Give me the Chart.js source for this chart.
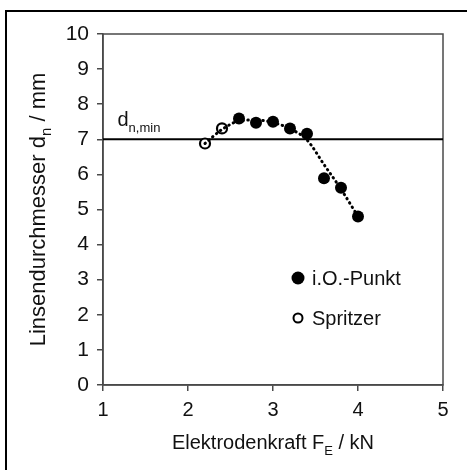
<!DOCTYPE html>
<html>
<head>
<meta charset="utf-8">
<script src="https://cdn.jsdelivr.net/npm/chart.js@4.4.0/dist/chart.umd.min.js"></script>
<style>
  html, body { margin: 0; padding: 0; background: #fff; }
  #wrap { position: relative; width: 467px; height: 470px; }
  #frame { position: absolute; left: 5px; top: 10px; right: -10px; bottom: -10px;
           border-top: 2px solid #000; border-left: 2px solid #000; }
  #wrap canvas { position: absolute; left: 0; top: 0; }
</style>
</head>
<body>
<div id="wrap">
  <div id="frame"></div>
  <canvas id="chart" width="467" height="470"></canvas>
</div>
<script>
// Electrode force (kN) vs. nugget diameter (mm)
const okForce = [2.6, 2.8, 3.0, 3.2, 3.4, 3.6, 3.8, 4.0];
const okDiameter = [7.59, 7.47, 7.50, 7.31, 7.16, 5.89, 5.62, 4.80];

const splashForce = [2.2, 2.4];
const splashDiameter = [6.88, 7.31];

// dotted trend curve
const trendForce = [2.2, 2.4, 2.6, 2.8, 3.0, 3.2, 3.4, 3.6, 3.8, 4.0];
const trendDiameter = [6.88, 7.28, 7.52, 7.55, 7.48, 7.30, 6.98, 6.28, 5.58, 4.80];

const dnMin = 7;
const xRange = [1, 5];
const yRange = [0, 10];

const FONT = '"Liberation Sans", Arial, sans-serif';
const toXY = (xs, ys) => xs.map((x, i) => ({ x: x, y: ys[i] }));

// draws text made of parts [{t, sub}] with real subscripts
function drawParts(ctx, parts, x, y, size, align) {
    const subSize = Math.round(size * 0.66);
    let total = 0;
    parts.forEach(p => {
        ctx.font = (p.sub ? subSize : size) + 'px ' + FONT;
        p.w = ctx.measureText(p.t).width;
        total += p.w;
    });
    let cx = align === 'center' ? x - total / 2 : x;
    parts.forEach(p => {
        ctx.font = (p.sub ? subSize : size) + 'px ' + FONT;
        ctx.fillText(p.t, cx, p.sub ? y + size * 0.28 : y);
        cx += p.w;
    });
}

const extras = {
    id: 'extras',
    beforeDatasetsDraw(chart) {
        const { ctx, chartArea: a } = chart;
        ctx.save();
        ctx.strokeStyle = '#4a4a4a';
        ctx.lineWidth = 1.5;
        ctx.strokeRect(a.left, a.top, a.right - a.left, a.bottom - a.top);
        ctx.restore();
    },
    afterDraw(chart) {
        const { ctx, chartArea: a, scales } = chart;
        ctx.save();
        ctx.fillStyle = '#111';
        ctx.textBaseline = 'alphabetic';
        // x title
        drawParts(ctx, [{ t: 'Elektrodenkraft F' }, { t: 'E', sub: true }, { t: ' / kN' }],
            (a.left + a.right) / 2, 449, 20, 'center');
        // y title
        ctx.save();
        ctx.translate(45, (a.top + a.bottom) / 2);
        ctx.rotate(-Math.PI / 2);
        drawParts(ctx, [{ t: 'Linsendurchmesser d' }, { t: 'n', sub: true }, { t: ' / mm' }],
            0, 0, 22, 'center');
        ctx.restore();
        // threshold label
        drawParts(ctx, [{ t: 'd' }, { t: 'n,min', sub: true }],
            scales.x.getPixelForValue(1.17), scales.y.getPixelForValue(dnMin) - 13, 20, 'left');
        // legend
        const items = [
            { label: 'i.O.-Punkt', fill: '#000', r: 6.5, lw: 0 },
            { label: 'Spritzer', fill: '#fff', r: 4.5, lw: 2 }
        ];
        items.forEach((it, i) => {
            const y = 278 + i * 40;
            ctx.beginPath();
            ctx.arc(298, y, it.r, 0, Math.PI * 2);
            ctx.fillStyle = it.fill;
            ctx.fill();
            if (it.lw) { ctx.lineWidth = it.lw; ctx.strokeStyle = '#000'; ctx.stroke(); }
            ctx.fillStyle = '#111';
            ctx.font = '20px ' + FONT;
            ctx.textBaseline = 'middle';
            ctx.fillText(it.label, 312, y + 1);
        });
        ctx.restore();
    }
};

new Chart(document.getElementById('chart').getContext('2d'), {
    type: 'scatter',
    data: {
        datasets: [
            {
                label: 'dn,min',
                type: 'line',
                data: toXY(xRange, [dnMin, dnMin]),
                borderColor: '#000',
                borderWidth: 2,
                pointRadius: 0,
                order: 5
            },
            {
                label: 'Trend',
                type: 'line',
                data: toXY(trendForce, trendDiameter),
                borderColor: '#000',
                borderWidth: 3,
                borderDash: [0.5, 4.5],
                borderCapStyle: 'round',
                cubicInterpolationMode: 'monotone',
                pointRadius: 0,
                order: 2
            },
            {
                label: 'Spritzer',
                data: toXY(splashForce, splashDiameter),
                backgroundColor: '#fff',
                borderColor: '#000',
                borderWidth: 2.2,
                pointRadius: 5,
                order: 3
            },
            {
                label: 'i.O.-Punkt',
                data: toXY(okForce, okDiameter),
                backgroundColor: '#000',
                borderColor: '#000',
                borderWidth: 0,
                pointRadius: 6,
                order: 1
            }
        ]
    },
    options: {
        responsive: false,
        animation: false,
        layout: { padding: { left: 0, top: 34, right: 24, bottom: 0 } },
        plugins: { legend: { display: false }, tooltip: { enabled: false } },
        scales: {
            x: {
                type: 'linear',
                min: xRange[0], max: xRange[1],
                afterFit: s => { s.height = 85; },
                ticks: { stepSize: 1, color: '#111', padding: 7, font: { family: FONT, size: 20 } },
                grid: { drawOnChartArea: false, tickLength: 6, color: '#4a4a4a', lineWidth: 1.5 },
                border: { color: '#4a4a4a', width: 1.5 }
            },
            y: {
                min: yRange[0], max: yRange[1],
                afterFit: s => { s.width = 103; },
                ticks: { stepSize: 1, color: '#111', padding: 8, font: { family: FONT, size: 21 } },
                grid: { drawOnChartArea: false, tickLength: 6, color: '#4a4a4a', lineWidth: 1.5 },
                border: { color: '#4a4a4a', width: 1.5 }
            }
        }
    },
    plugins: [extras]
});
</script>
</body>
</html>
